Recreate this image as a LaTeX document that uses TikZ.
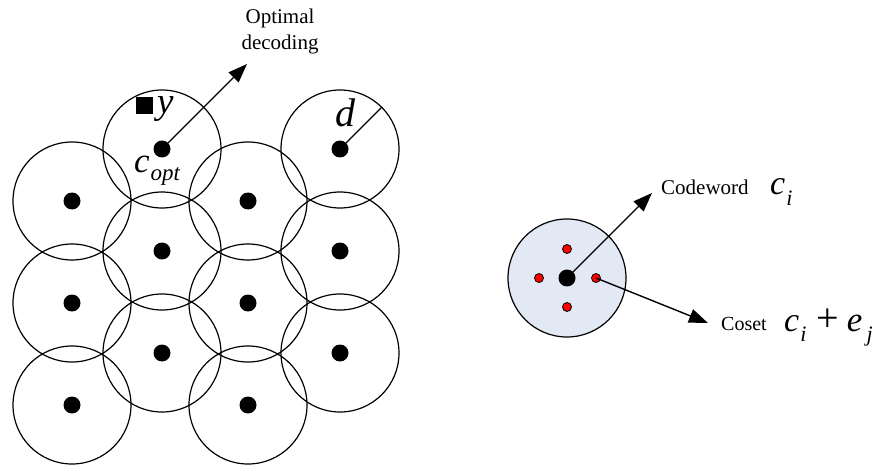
\documentclass[tikz,border=0pt]{standalone}
\usepackage{fontspec}
\setmainfont{Liberation Serif}
\usetikzlibrary{arrows.meta}
\definecolor{cosetfill}{RGB}{226,232,244}
\tikzset{
 ring/.style={circle,draw,line width=1.2pt,minimum size=118pt,inner sep=0pt},
 dot/.style={circle,fill=black,minimum size=17pt,inner sep=0pt},
 rdot/.style={circle,fill=red,draw=black,line width=0.8pt,minimum size=9pt,inner sep=0pt},
 arr/.style={line width=1.4pt,-{Triangle[length=19pt,width=14pt]}},
 lbl/.style={font=\fontsize{21}{26}\selectfont,align=center,inner sep=0pt},
 mlbl/.style={inner sep=0pt,anchor=base west},
}
\newcommand\mvar[2][30]{{\fontsize{#1}{#1}\selectfont\itshape #2}}
\begin{document}
\begin{tikzpicture}[x=1pt,y=-1pt]
\useasboundingbox (0,0) rectangle (884,468);
\foreach \n/\x/\y in {a/162/149, b/340/149, c/72/201, e/248/201, f/162/251, g/340/251, h/72/303, k/248/303, l/162/353, m/340/353, n/72/405, o/248/405} {
  \node[ring] (r\n) at (\x,\y) {};
  \node[dot] (d\n) at (\x,\y) {};
}
% optimal decoding
\coordinate (optend) at (247,64);
\draw[arr] (da.center) -- (optend);
\node[lbl] (optlbl) at (280,31) {Optimal\\decoding};
\node[fill=black,minimum size=17pt,inner sep=0pt] (ysq) at (144,105.5) {};
\node[mlbl] (ylbl) at (157,114) {\mvar[37]{y}};
\node[mlbl] (copt) at (134,172) {\mvar[35]{c}\hspace{1pt}\raisebox{-9pt}{\mvar[23]{opt}}};
% radius d
\coordinate (dedge) at (382,107);
\draw[line width=1.2pt] (db.center) -- (dedge);
\node[mlbl] (dlbl) at (335,127) {\mvar[40]{d}};
% right coset picture
\node[ring,fill=cosetfill] (rc) at (567,278) {};
\node[dot] (dc) at (567,278) {};
\node[rdot] (rt) at (567,249) {};
\node[rdot] (rl) at (539,278) {};
\node[rdot] (rr) at (596,278) {};
\node[rdot] (rb) at (567,307) {};
\coordinate (cwend) at (652,193);
\draw[arr] (dc.center) -- (cwend);
\coordinate (csend) at (708,323);
\draw[arr] (rr.center) -- (csend);
\node[mlbl,font=\fontsize{21}{26}\selectfont] (cw) at (661,195) {Codeword};
\node[mlbl] (ci) at (770,195) {\mvar[34]{c}\hspace{1pt}\raisebox{-10pt}{\mvar[22]{i}}};
\node[mlbl,font=\fontsize{20}{24}\selectfont] (cs) at (721,330) {Coset};
\node[mlbl] (cie) at (784,331) {\mvar[34]{c}\hspace{1pt}\raisebox{-10pt}{\mvar[22]{i}}\hspace{10pt}{\fontsize{40}{40}\selectfont +}\hspace{8pt}\mvar[35]{e}\hspace{4pt}\raisebox{-10pt}{\mvar[22]{j}}};
\end{tikzpicture}
\end{document}
